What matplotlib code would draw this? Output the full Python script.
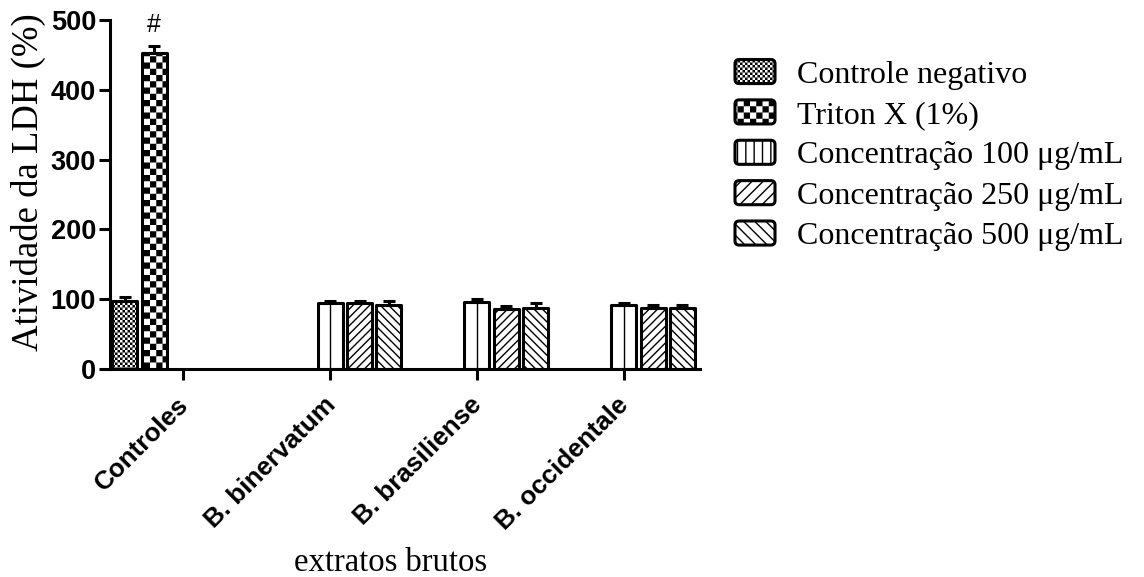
import warnings
import numpy as np
import matplotlib
matplotlib.use("Agg")
import matplotlib.pyplot as plt
import matplotlib.patches as mpatches
import matplotlib.transforms as mtransforms
from matplotlib import hatch as mhatch
from matplotlib.path import Path
from matplotlib.legend_handler import HandlerPatch

warnings.filterwarnings("ignore", message=".*hatch must consist.*")

# ---- data ----
groups = ["Controles", "B. binervatum", "B. brasiliense", "B. occidentale"]
series = ["Controle negativo", "Triton X (1%)", "Concentração 100 μg/mL",
          "Concentração 250 μg/mL", "Concentração 500 μg/mL"]
neg_mean = [97, np.nan, np.nan, np.nan]
neg_err = [6, np.nan, np.nan, np.nan]
triton_mean = [453, np.nan, np.nan, np.nan]
triton_err = [10, np.nan, np.nan, np.nan]
c100_mean = [np.nan, 95, 96, 92]
c100_err = [np.nan, 2, 4, 2]
c250_mean = [np.nan, 94, 86, 87]
c250_err = [np.nan, 4, 4, 5]
c500_mean = [np.nan, 92, 88, 87]
c500_err = [np.nan, 6, 6, 4]
y_ticks = [0, 100, 200, 300, 400, 500]


class CheckerHatch(mhatch.HatchPatternBase):
    """checkerboard hatch, 'c' -> 8 cells per hatch unit"""

    def __init__(self, hatch, density):
        self.n = hatch.count('c') * 8
        self.num_vertices = (self.n * self.n // 2) * 5 if self.n else 0

    def set_vertices_and_codes(self, vertices, codes):
        n = self.n
        cell = 1.0 / n
        half = max(cell - 0.0139, 0.002) / 2  # leave room for hatch stroke
        k = 0
        for i in range(n):
            for j in range(n):
                if (i + j) % 2:
                    continue
                cx, cy = (i + 0.5) * cell, (j + 0.5) * cell
                vertices[k:k + 5] = [(cx - half, cy - half), (cx + half, cy - half),
                                     (cx + half, cy + half), (cx - half, cy + half),
                                     (cx - half, cy - half)]
                codes[k:k + 5] = [Path.MOVETO, Path.LINETO, Path.LINETO,
                                  Path.LINETO, Path.CLOSEPOLY]
                k += 5


mhatch._hatch_types.append(CheckerHatch)

serif = "Liberation Serif"
sans = "Liberation Sans"

fig = plt.figure(figsize=(11.44, 5.77), dpi=100)
ax = fig.add_axes([110 / 1144, 1 - 369 / 577, 590 / 1144, 349 / 577])

means = [neg_mean, triton_mean, c100_mean, c250_mean, c500_mean]
errs = [neg_err, triton_err, c100_err, c250_err, c500_err]
bar_hatches = ["ccccc", "cc", "", "////", "\\\\\\\\"]
legend_hatches = ["ccccc", "cc", "||", "///", "\\\\\\"]
lw = 2.2
slot = 0.2
width = 0.17

for k, (m, e) in enumerate(zip(means, errs)):
    m = np.array(m, dtype=float)
    e = np.array(e, dtype=float)
    ok = ~np.isnan(m)
    x = np.arange(len(groups))[ok] + (k - 2) * slot
    ax.bar(x, m[ok], width=width, color="white", edgecolor="black",
           linewidth=lw, hatch=bar_hatches[k], joinstyle="round", zorder=2)
    if k == 2:
        ax.vlines(x, 0, m[ok], color="black", linewidth=1.0, zorder=2.1)
    ax.errorbar(x, m[ok], yerr=[np.zeros(ok.sum()), e[ok]], fmt="none",
                ecolor="black", elinewidth=lw, capsize=4.5, capthick=lw, zorder=3)
    if k == 1:
        ax.annotate("#", (x[0], m[ok][0] + e[ok][0]), xytext=(0, 6),
                    textcoords="offset points", ha="center", va="bottom",
                    fontsize=18, family=sans)

ax.set_xlim(-0.5, 3.52)
ax.set_ylim(0, 500)
ax.set_yticks(y_ticks)
ax.set_yticklabels([str(t) for t in y_ticks], fontsize=19.5,
                   fontweight="bold", family=sans)
ax.set_xticks(range(len(groups)))
ax.set_xticklabels(groups, rotation=45, ha="right", rotation_mode="anchor",
                   fontsize=18.7, fontweight="bold", family=sans)
ax.tick_params(axis="both", length=8, width=lw, color="black")
ax.tick_params(axis="y", pad=2)
ax.tick_params(axis="x", pad=4)
shift = mtransforms.ScaledTranslation(-0.07, -0.07, fig.dpi_scale_trans)
for lab in ax.get_xticklabels():
    lab.set_transform(lab.get_transform() + shift)
for s in ["top", "right"]:
    ax.spines[s].set_visible(False)
for s in ["left", "bottom"]:
    ax.spines[s].set_linewidth(lw)

ax.set_ylabel("Atividade da LDH (%)", fontsize=26.5, family=serif)
ax.yaxis.set_label_coords(-0.108, 0.536)
ax.set_xlabel("extratos brutos", fontsize=23.5, family=serif)
ax.xaxis.set_label_coords(0.476, -0.512)


def rounded_box(legend, orig_handle, xdescent, ydescent, width, height, fontsize):
    return mpatches.FancyBboxPatch((-xdescent, -ydescent), width, height,
                                   boxstyle="round,pad=0,rounding_size=3",
                                   joinstyle="round")


handles = [mpatches.Patch(facecolor="white", edgecolor="black", linewidth=lw,
                          hatch=h, label=s)
           for h, s in zip(legend_hatches, series)]
fs = 23
fs_px = fs * 100 / 72
ax.legend(handles=handles, loc="upper left",
          bbox_to_anchor=(735 / 1144, 1 - 59.5 / 577), bbox_transform=fig.transFigure,
          frameon=False, borderpad=0, borderaxespad=0,
          handlelength=40 / fs_px, handleheight=25 / fs_px,
          handletextpad=22 / fs_px, labelspacing=0.32,
          prop={"family": serif, "size": fs},
          handler_map={mpatches.Patch: HandlerPatch(patch_func=rounded_box)})

fig.savefig("out.png", dpi=100)
